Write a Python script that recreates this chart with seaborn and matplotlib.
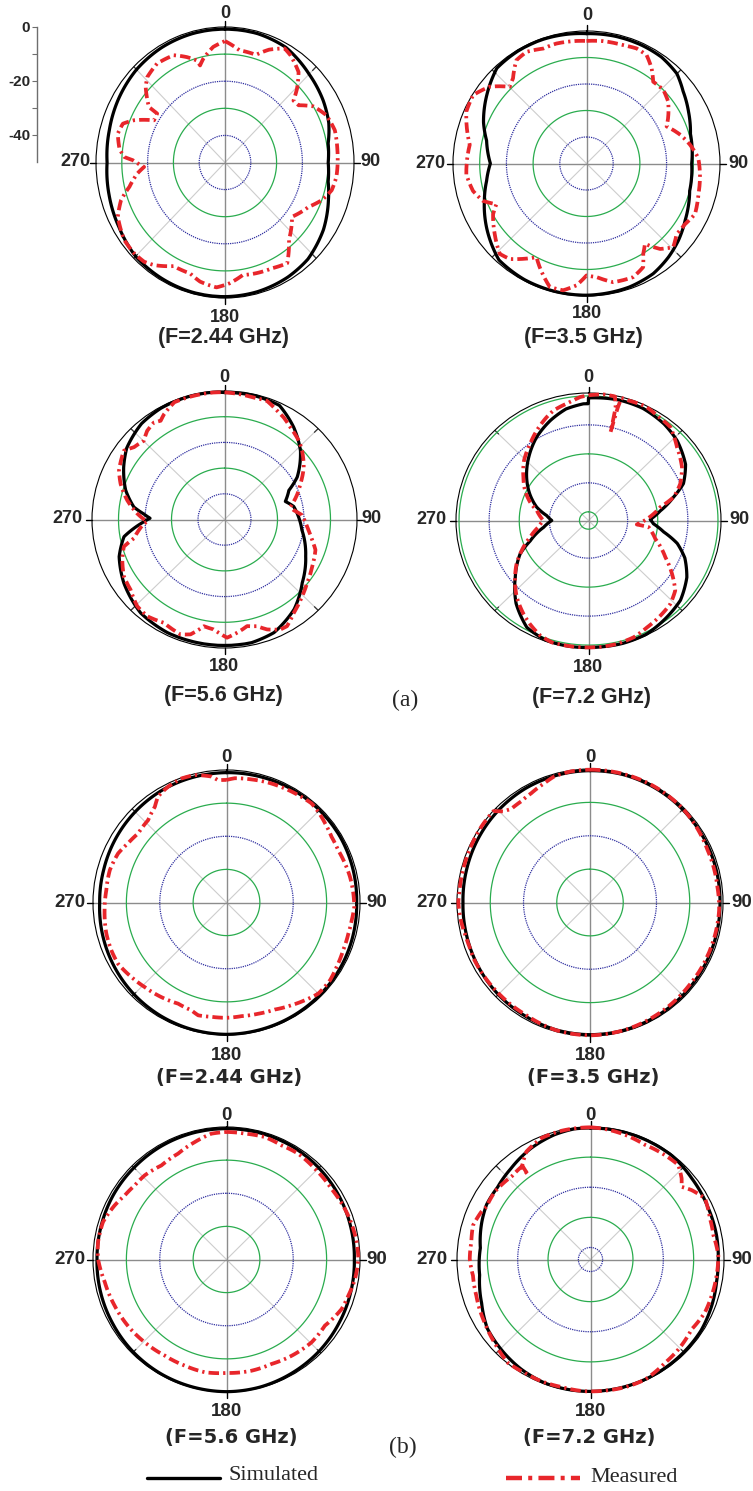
import numpy as np
import matplotlib
matplotlib.use("Agg")
import matplotlib.pyplot as plt
from matplotlib.lines import Line2D
import seaborn as sns

# Tamanho da figura em pixels
W, H = 753, 1491

# ---------------- Dados (angulo em graus, ganho em dB) ----------------

# (a) 2.44 GHz
a1_sim_deg = [0, 15, 29, 45, 59, 70, 80, 90, 100, 109, 123, 138, 150, 165, 180, 195, 210, 225, 240, 255, 270, 285, 300, 315, 330, 345, 360]
a1_sim_db = [-0.8, -0.8, -1.4, -3.9, -5.6, -7.2, -9.4, -10.0, -9.4, -7.6, -4.5, -2.0, -1.2, -0.7, -0.5, -0.5, -0.7, -1.0, -2.5, -3.5, -4.3, -3.6, -2.5, -1.5, -1.0, -0.8, -0.8]
a1_meas_deg = [0, 7.7, 16.8, 22.3, 28.8, 32.7, 40.5, 45.7, 49.3, 53.5, 58.8, 66.1, 74.4, 84, 97, 103.9, 110.3, 116.8, 127.6, 139,
               147, 154.8, 163.6, 170.6, 177.7, 184.1, 192.4, 198.3, 207.5, 216, 220.6, 226.4, 233.8, 244.3, 251, 256.4, 263.2, 267, 271.4, 273,
               277, 284.4, 289.9, 293.9, 299.5, 304.5, 304.8, 312.2, 316.3, 324.2, 333.3, 339.2, 343.8, 344.9, 347.6, 353.9, 360]
a1_meas_db = [-5.2, -8.2, -8.5, -5.0, -2.0, -3.0, -6.1, -11.0, -15.0, -14.5, -10.0, -7.0, -5.8, -6.2, -6.5, -7.4, -10.0, -13.7, -17.2, -12.2,
              -5.7, -6.9, -7.4, -7.9, -5.4, -3.8, -5.0, -6.9, -6.9, -3.2, -1.8, -1.4, -1.6, -3.9, -7.4, -11.9, -15.8, -18.6, -14.2, -10.9,
              -8.8, -7.1, -7.9, -11.5, -18.4, -18.1, -14.1, -8.5, -6.4, -5.0, -5.7, -8.4, -10.8, -12.9, -10.8, -7.1, -5.2]

# (a) 3.5 GHz
a2_sim_deg = [0, 12, 25, 35, 45, 53, 63, 74, 90, 105, 114, 120, 130, 139, 149, 161, 180, 193, 208, 222, 237, 250, 260, 270, 283, 292, 305, 317, 329, 341, 352, 360]
a2_sim_db = [-1.0, -0.8, -0.8, -1.0, -2.1, -4.7, -7.1, -9.5, -10.6, -10.0, -8.4, -7.3, -5.0, -3.2, -1.5, -0.7, -0.3, -0.3, -0.4, -1.0, -5.4, -9.3, -12.0, -14.0, -11.6, -8.4, -4.5, -0.8, -0.4, -0.4, -0.7, -1.0]
a2_meas_deg = [0, 7.7, 17.1, 23.4, 28.8, 34.2, 39, 46, 52.6, 60.8, 65, 72.7, 79.6, 87.1, 95.5, 105.5, 115.2, 121.8, 128.3, 134.2,
               139.5, 144.2, 148.1, 151.5, 157.8, 167.4, 175, 180, 184.7, 190.4, 196.4, 204.1, 207.9, 213.4, 218.6, 223.6, 232.2, 241.3, 245.5, 250,
               256.3, 264.8, 279.2, 293.6, 301.3, 308.7, 315.2, 319.4, 326, 331.9, 339.5, 346, 355.4, 360]
a2_meas_db = [-3.75, -3.4, -3.3, -2.7, -3.3, -6.6, -10.3, -10.0, -11.5, -15.0, -16.9, -13.3, -10.6, -8.1, -7.3, -6.5, -5.1, -6.6, -7.0, -4.7,
              -7.6, -12.6, -9.8, -5.5, -3.7, -4.1, -7.0, -7.75, -3.85, -1.35, -1.4, -7.1, -10.0, -6.9, -3.9, -2.9, -6.5, -10.1, -12.9, -8.75,
              -6.25, -4.8, -5.7, -0.9, -0.3, -3.6, -9.2, -7.7, -3.0, -2.25, -3.7, -3.35, -3.6, -3.75]

# (a) 5.6 GHz
a3_sim_deg = [0, 13, 25, 36, 47, 59, 65, 73, 79, 98, 115, 130, 143, 157, 168, 180, 192, 206, 221, 237, 250, 260, 267, 271, 274, 278, 287, 298, 307, 320, 331, 344, 355, 360]
a3_sim_db = [-0.6, -0.5, -1.0, -5.6, -10.8, -18.0, -23.2, -26.0, -23.4, -20.5, -16.2, -11.7, -6.3, -2.2, -1.0, -1.0, -1.0, -1.0, -1.8, -4.7, -7.7, -11.5, -18.3, -21.9, -19.5, -15.5, -11.0, -6.9, -3.8, -1.3, -0.5, -0.3, -0.3, -0.6]
a3_meas_deg = [0, 7.1, 13.1, 19.2, 25.2, 29.4, 34.8, 42.4, 47.5, 55.8, 64.1, 67.9, 78.8, 82.2, 86.7, 95.2, 103.6, 109, 118.9, 128.5,
               135.6, 144.3, 150.4, 153.8, 159.4, 163.5, 168.4, 173.8, 178.8, 185.3, 190.6, 196, 200.4, 209.6, 217.7, 224.3, 232.4, 239.7, 247.8, 254.5,
               257.9, 267.1, 268.2, 274, 281.5, 289.5, 295.6, 305.2, 309.5, 315.2, 319.8, 324.8, 327.9, 330.9, 337.5, 345, 355, 360]
a3_meas_db = [-0.5, -0.95, -1.3, -1.15, -3.3, -4.45, -6.4, -8.45, -10.3, -13.85, -18.15, -19.75, -24.65, -23.6, -20.7, -18.7, -16.0, -13.7, -12.2, -10.2,
              -8.15, -5.25, -2.25, -2.3, -4.3, -6.7, -7.65, -5.7, -4.0, -7.0, -7.75, -3.5, -2.3, -3.75, -2.4, -2.85, -5.25, -6.05, -8.35, -10.6,
              -15.05, -19.55, -20.85, -17.0, -12.55, -8.4, -5.85, -3.55, -5.75, -6.8, -4.8, -3.8, -4.65, -3.1, -0.6, -0.5, -0.4, -0.5]

# (a) 7.2 GHz
a4_sim_deg = [0, 14, 25, 37, 47, 59, 68, 74, 82, 89, 93, 99, 105, 112, 121, 132, 142, 154, 165, 176, 188, 199, 209, 220, 231, 243, 250, 261, 270, 277,
              285, 295, 306, 318, 329, 340, 349, 357.6, 359.9, 360]
a4_sim_db = [-1.7, -1.2, -1.3, -2.3, -3.7, -6.4, -10.0, -14.6, -19.9, -23.5, -22.4, -18.7, -13.5, -9.5, -5.9, -2.9, -1.7, -0.3, -0.1, -0.2, -0.1, -0.3, -1.8, -6.6, -12.7, -18.5, -23.4, -28.9, -31.8, -30.0,
             -26.2, -22.5, -18.6, -14.4, -10.5, -7.2, -4.8, -3.7, -3.7, -1.7]
a4_meas_deg = [0, 6.5, 11.6, 13.0, 13.5, 14.0, 14.5, 18, 25.7, 32.9, 40.1, 49.2, 59.3, 67.4, 74.1, 79, 94.9, 96.5, 106, 116.4,
               123.6, 130, 136.7, 144, 152.2, 159.6, 167.5, 175, 182, 189.4, 196, 202, 208.5, 213.8, 222, 231.2, 237.9, 244.9, 253.5, 262.2,
               270, 281.4, 288.1, 296.2, 304.7, 314.1, 323.8, 331.1, 338.8, 343, 349.9, 353.2, 356.3, 360]
a4_meas_db = [-0.8, -0.2, -0.3, -4.0, -12.6, -4.0, -0.3, -0.5, -0.3, -1.3, -1.8, -5.2, -7.9, -11.0, -14.6, -19.7, -27.9, -23.9, -20.9, -15.5,
              -10.7, -6.4, -4.4, -3.4, -2.3, -1.0, -0.4, -0.2, -0.2, -0.2, -0.2, -1.2, -3.3, -5.2, -8.4, -12.7, -15.8, -19.5, -23.8, -27.2,
              -29.0, -26.5, -23.6, -20.5, -17.7, -14.2, -11.2, -8.5, -5.7, -4.3, -3.0, -2.2, -1.3, -0.8]

# (b) 2.44 GHz
b1_sim_deg = [0, 15, 30, 45, 60, 75, 90, 105, 120, 135, 150, 165, 180, 195, 210, 225, 240, 255, 270, 285, 300, 315, 330, 345, 360]
b1_sim_db = [-0.8, -0.7, -0.6, -0.6, -0.6, -0.8, -1.0, -0.8, -0.6, -0.5, -0.4, -0.3, -0.2, -0.3, -0.5, -0.8, -1.2, -1.6, -2.0, -1.9, -1.6, -1.3, -1.0, -0.9, -0.8]
b1_meas_deg = [0, 3.8, 11.4, 19.1, 26.9, 33.5, 40.4, 45.1, 51, 57.8, 64.7, 71.6, 78.2, 85.9, 92, 98.1, 104.4, 112.4, 120.5, 127.1,
               135, 141.5, 147.9, 155.9, 164.2, 172.5, 180, 187.4, 194, 197.9, 205.4, 214.4, 223.9, 231.7, 240.4, 247.3, 255.4, 266.4, 275.9, 285.6,
               294.5, 301.2, 308.2, 316.6, 323.4, 327.3, 333.4, 340.2, 346.1, 353.2, 356.1, 360]
b1_meas_db = [-3.0, -2.4, -2.1, -1.7, -1.4, -1.1, -0.7, -1.2, -2.0, -2.8, -3.0, -2.6, -2.2, -1.9, -1.7, -2.1, -2.3, -2.2, -1.7, -1.1,
              -1.1, -2.3, -3.4, -4.6, -5.1, -5.4, -5.2, -5.2, -4.9, -5.8, -6.2, -5.4, -4.6, -3.7, -2.6, -2.6, -2.8, -3.4, -3.8, -3.7,
              -4.3, -5.5, -6.3, -5.8, -4.0, -2.0, -0.9, -0.2, -0.35, -1.7, -3.0, -3.0]

# (b) 3.5 GHz
b2_sim_deg = [0, 15, 30, 45, 60, 75, 90, 105, 120, 135, 150, 165, 180, 195, 210, 225, 240, 255, 270, 285, 300, 315, 330, 345, 360]
b2_sim_db = [-0.5, -0.4, -0.5, -0.6, -0.7, -0.8, -0.9, -0.8, -0.7, -0.6, -0.5, -0.4, -0.4, -0.5, -0.8, -1.0, -1.3, -1.6, -1.8, -1.6, -1.3, -1.0, -0.7, -0.6, -0.5]
b2_meas_deg = [0, 13.4, 27, 45.5, 65.9, 83, 93.4, 110, 130, 150, 165, 180, 195, 210, 225, 244, 250, 255, 262, 270,
               275.4, 284.3, 293.5, 304.8, 313.3, 316.2, 319.7, 325.6, 331.6, 339.1, 344.2, 351.7, 360]
b2_meas_db = [-0.2, -0.2, -0.2, -0.4, -1.3, -1.4, -1.1, -1.2, -1.2, -0.8, -0.4, -0.2, -0.4, -1.2, -1.3, -1.2, -1.4, -1.3, -0.8, -0.4,
              -0.6, -0.6, -0.5, -0.2, -0.1, -2.2, -3.3, -3.3, -2.8, -1.7, -0.7, -0.3, -0.2]

# (b) 5.6 GHz
b3_sim_deg = [0, 15, 30, 45, 60, 75, 90, 105, 120, 135, 150, 165, 180, 195, 210, 225, 240, 255, 270, 285, 300, 315, 330, 345, 360]
b3_sim_db = [-0.5, -0.5, -0.6, -0.9, -1.2, -1.5, -1.7, -1.5, -1.2, -0.8, -0.5, -0.2, -0.1, -0.2, -0.3, -0.5, -0.8, -1.0, -1.2, -1.1, -0.9, -0.8, -0.6, -0.5, -0.5]
b3_meas_deg = [0, 8.2, 17.3, 25.6, 34, 44, 55.9, 70, 82.3, 89.7, 98.6, 106.6, 113.4, 124.1, 134.4, 146.1, 156.8, 167.4, 180, 190.8,
               201.3, 212.5, 224.4, 234.1, 247.4, 259.4, 270.3, 277.8, 287, 295.9, 302.4, 309.1, 316, 325.5, 335.6, 345, 353.2, 360]
b3_meas_db = [-1.5, -1.6, -1.3, -1.8, -1.5, -1.9, -2.0, -1.2, -0.65, -0.5, -1.05, -1.9, -2.4, -4.4, -4.3, -5.0, -5.7, -5.6, -5.75, -5.35,
              -5.6, -5.6, -5.0, -4.4, -3.7, -2.9, -1.5, -1.15, -1.3, -2.7, -3.9, -4.55, -4.7, -5.55, -4.9, -3.3, -1.75, -1.5]

# (b) 7.2 GHz
b4_sim_deg = [0, 12, 24, 38, 51, 66, 79, 90, 100, 111, 123, 135, 157, 180, 188, 200, 212, 225, 236, 248, 262, 276, 289, 298, 308, 319, 332, 344, 353, 360]
b4_sim_db = [-0.35, -0.3, -0.3, -0.3, -1.1, -1.6, -1.7, -1.9, -1.8, -1.2, -0.6, -0.5, -0.3, -0.2, -0.2, -0.3, -1.0, -2.1, -3.0, -5.3, -7.1, -7.5, -6.1, -5.2, -5.1, -4.0, -2.2, -0.9, -0.3, -0.35]
b4_meas_deg = [0, 7.7, 15.3, 25.2, 33.6, 42.6, 48.1, 51.2, 55.3, 61.7, 71, 78.8, 88.2, 97.4, 106.7, 115, 124.8, 135.9, 144.4, 155.8,
               165.1, 175, 182.5, 192.7, 201.8, 209.9, 218.4, 228.8, 239, 252.3, 262.1, 270.3, 278.4, 286.3, 293.8, 297, 305.5, 317, 323.6, 323.8,
               324.2, 329.5, 338.1, 347.4, 360]
b4_meas_db = [-0.1, -0.5, -1.05, -1.9, -1.6, -1.3, -3.65, -5.5, -3.5, -1.15, -2.35, -2.7, -1.85, -2.1, -2.3, -2.4, -3.4, -2.4, -1.8, -0.25,
              -0.1, -0.2, -0.2, -0.6, -0.45, -0.55, -0.2, -2.0, -3.3, -4.5, -4.9, -4.2, -4.3, -3.65, -4.7, -5.5, -5.25, -6.1, -5.7, -9.2,
              -5.5, -2.4, -0.55, -0.2, -0.1]

# Aneis (dB) e limite radial de cada grupo
aneis_50 = [(-10, "g"), (-20, "b"), (-30, "g"), (-40, "b")]
aneis_a72 = [(-1, "g"), (-11, "b"), (-21, "g"), (-31, "b"), (-41, "g")]
aneis_40 = [(-10, "g"), (-20, "b"), (-30, "g")]
aneis_b72 = [(-10, "g"), (-20, "b"), (-30, "g"), (-40, "b")]

titulos = ["(F=2.44 GHz)", "(F=3.5 GHz)", "(F=5.6 GHz)", "(F=7.2 GHz)"]

# ---------------- Estilo ----------------
sns.set_style("white")
plt.rcParams["font.family"] = ["Liberation Sans", "DejaVu Sans"]

VERDE = "#2aac4e"
AZUL = "#2f2fa0"
VERMELHO = "#e8262b"
TRACO = (0, (2.8, 1.1, 0.6, 1.1))

fig = plt.figure(figsize=(W / 100, H / 100), dpi=100)


def px(x, y):
    return x / W, 1 - y / H


def painel(caixa, rmin, aneis, sim_deg, sim_db, meas_deg, meas_db):
    esq, topo, dir_, base = caixa
    ax = fig.add_axes([esq / W, 1 - base / H, (dir_ - esq) / W, (base - topo) / H], projection="polar")
    ax.set_aspect("auto")
    ax.set_theta_zero_location("N")
    ax.set_theta_direction(-1)
    ax.grid(False)

    t = np.linspace(0, 2 * np.pi, 721)
    # linhas radiais
    for ang in [45, 135, 225, 315]:
        a = np.deg2rad(ang)
        ax.plot([a, a], [rmin, 0], color="#cdcdcd", lw=0.8, zorder=1)
        ax.plot([a, a], [0.04 * rmin, 0], color="#333333", lw=0.9, zorder=1)
    for ang in [0, 90, 180, 270]:
        a = np.deg2rad(ang)
        ax.plot([a, a], [rmin, 0], color="#8c8c8c", lw=1.0, zorder=1)
        ax.plot([a, a], [0, -0.045 * rmin], color="black", lw=1.0, zorder=1, clip_on=False)
    # aneis
    for r, c in aneis:
        if c == "g":
            ax.plot(t, np.full_like(t, r), color=VERDE, lw=0.9, zorder=2)
        else:
            ax.plot(t, np.full_like(t, r), color=AZUL, lw=0.9, ls=(0, (1, 0.8)), zorder=2)

    # curvas
    sns.lineplot(x=np.deg2rad(sim_deg), y=sim_db, ax=ax, color="black", linewidth=2.3,
                 estimator=None, sort=False, zorder=4, clip_on=False)
    sns.lineplot(x=np.deg2rad(meas_deg), y=meas_db, ax=ax, color=VERMELHO, linewidth=2.7,
                 linestyle=TRACO, estimator=None, sort=False, zorder=5, clip_on=False)
    # desenhar os segmentos como arcos no plano polar
    for ln in ax.lines[-2:]:
        ln.get_path()._interpolation_steps = 24

    ax.set_ylim(rmin, 0)
    ax.set_xticks([])
    ax.set_yticks([])
    ax.set_xlabel("")
    ax.set_ylabel("")
    ax.spines["polar"].set_color("black")
    ax.spines["polar"].set_linewidth(0.8)
    return ax


caixas = [(96, 27, 354, 298), (453, 31, 720, 296), (92, 391, 357, 648), (456, 393, 721, 648),
          (93, 770, 360, 1035), (457, 769, 723, 1036), (93, 1127, 360, 1392), (457, 1127, 724, 1392)]
limites = [-50, -50, -50, -44, -40, -40, -40, -44]
conj_aneis = [aneis_50, aneis_50, aneis_50, aneis_a72, aneis_40, aneis_40, aneis_40, aneis_b72]
curvas = [(a1_sim_deg, a1_sim_db, a1_meas_deg, a1_meas_db),
          (a2_sim_deg, a2_sim_db, a2_meas_deg, a2_meas_db),
          (a3_sim_deg, a3_sim_db, a3_meas_deg, a3_meas_db),
          (a4_sim_deg, a4_sim_db, a4_meas_deg, a4_meas_db),
          (b1_sim_deg, b1_sim_db, b1_meas_deg, b1_meas_db),
          (b2_sim_deg, b2_sim_db, b2_meas_deg, b2_meas_db),
          (b3_sim_deg, b3_sim_db, b3_meas_deg, b3_meas_db),
          (b4_sim_deg, b4_sim_db, b4_meas_deg, b4_meas_db)]

for caixa, rmin, an, cv in zip(caixas, limites, conj_aneis, curvas):
    painel(caixa, rmin, an, *cv)

# Rotulos dos angulos e titulos (centro em pixels)
posicoes = [
    # (x0, y0, x90, x270, y180, xt, yt)
    (225, 14, 370, 75, 317, 224, 338),
    (587, 15, 738, 430, 314, 583, 338),
    (224, 377, 371, 67, 666, 223, 696),
    (588, 377, 739, 431, 667, 592, 697),
    (226, 758, 377, 70, 1055, 229, 1078),
    (590, 758, 742, 432, 1055, 593, 1078),
    (226, 1115, 377, 70, 1412, 231, 1437),
    (590, 1115, 742, 432, 1412, 589, 1437),
]
centros_y = [162, 163, 519, 520, 902, 902, 1259, 1259]
for i, (p, cy) in enumerate(zip(posicoes, centros_y)):
    x0, y0, x90, x270, y180, xt, yt = p
    tam = 13 if i < 4 else 13.5
    rot = dict(fontsize=tam, fontweight="bold", ha="center", va="center")
    fig.text(*px(x0, y0), "0", **rot)
    fig.text(*px(x90, cy), "90", **rot)
    fig.text(*px(x270, cy), "270", **rot)
    fig.text(*px(x0, y180), "180", **rot)
    if i < 4:
        fig.text(*px(xt, yt), titulos[i % 4], fontsize=15.5, fontweight="bold", ha="center", va="center")
    else:
        fig.text(*px(xt, yt), titulos[i % 4], fontsize=14, fontweight="bold", family="DejaVu Sans",
                 ha="center", va="center")

fig.text(*px(405, 700), "(a)", fontsize=17, family="Liberation Serif", ha="center", va="center")
fig.text(*px(403, 1447), "(b)", fontsize=17, family="Liberation Serif", ha="center", va="center")

# Escala radial (canto superior esquerdo)
ax_s = fig.add_axes([37 / W, 1 - 162 / H, 0.5 / W, 135 / H])
ax_s.set_ylim(-50, 0)
ax_s.set_xticks([])
for lado in ["top", "right", "bottom"]:
    ax_s.spines[lado].set_visible(False)
ax_s.spines["left"].set_color("#6e6e6e")
ax_s.spines["left"].set_linewidth(1.0)
ax_s.set_yticks([0, -20, -40])
ax_s.set_yticklabels(["0", "-20", "-40"], fontsize=11, fontweight="bold")
ax_s.set_yticks([-10, -30], minor=True)
ax_s.tick_params(axis="y", which="both", direction="out", length=3.5, width=0.8, color="#6e6e6e", pad=1.5, left=True)
ax_s.patch.set_alpha(0)

# Legenda
fig.add_artist(Line2D([147 / W, 220 / W], [1 - 1478 / H] * 2, color="black", lw=2.4, transform=fig.transFigure))
fig.text(*px(228, 1476), "Simulated", fontsize=16, family="Liberation Serif", ha="left", va="center")
fig.add_artist(Line2D([506 / W, 580 / W], [1 - 1478 / H] * 2, color=VERMELHO, lw=3.2,
                      linestyle=(0, (3.6, 1.4, 0.9, 1.4)), transform=fig.transFigure))
fig.text(*px(590, 1478), "Measured", fontsize=16, family="Liberation Serif", ha="left", va="center")

fig.savefig("out.png", dpi=100)
